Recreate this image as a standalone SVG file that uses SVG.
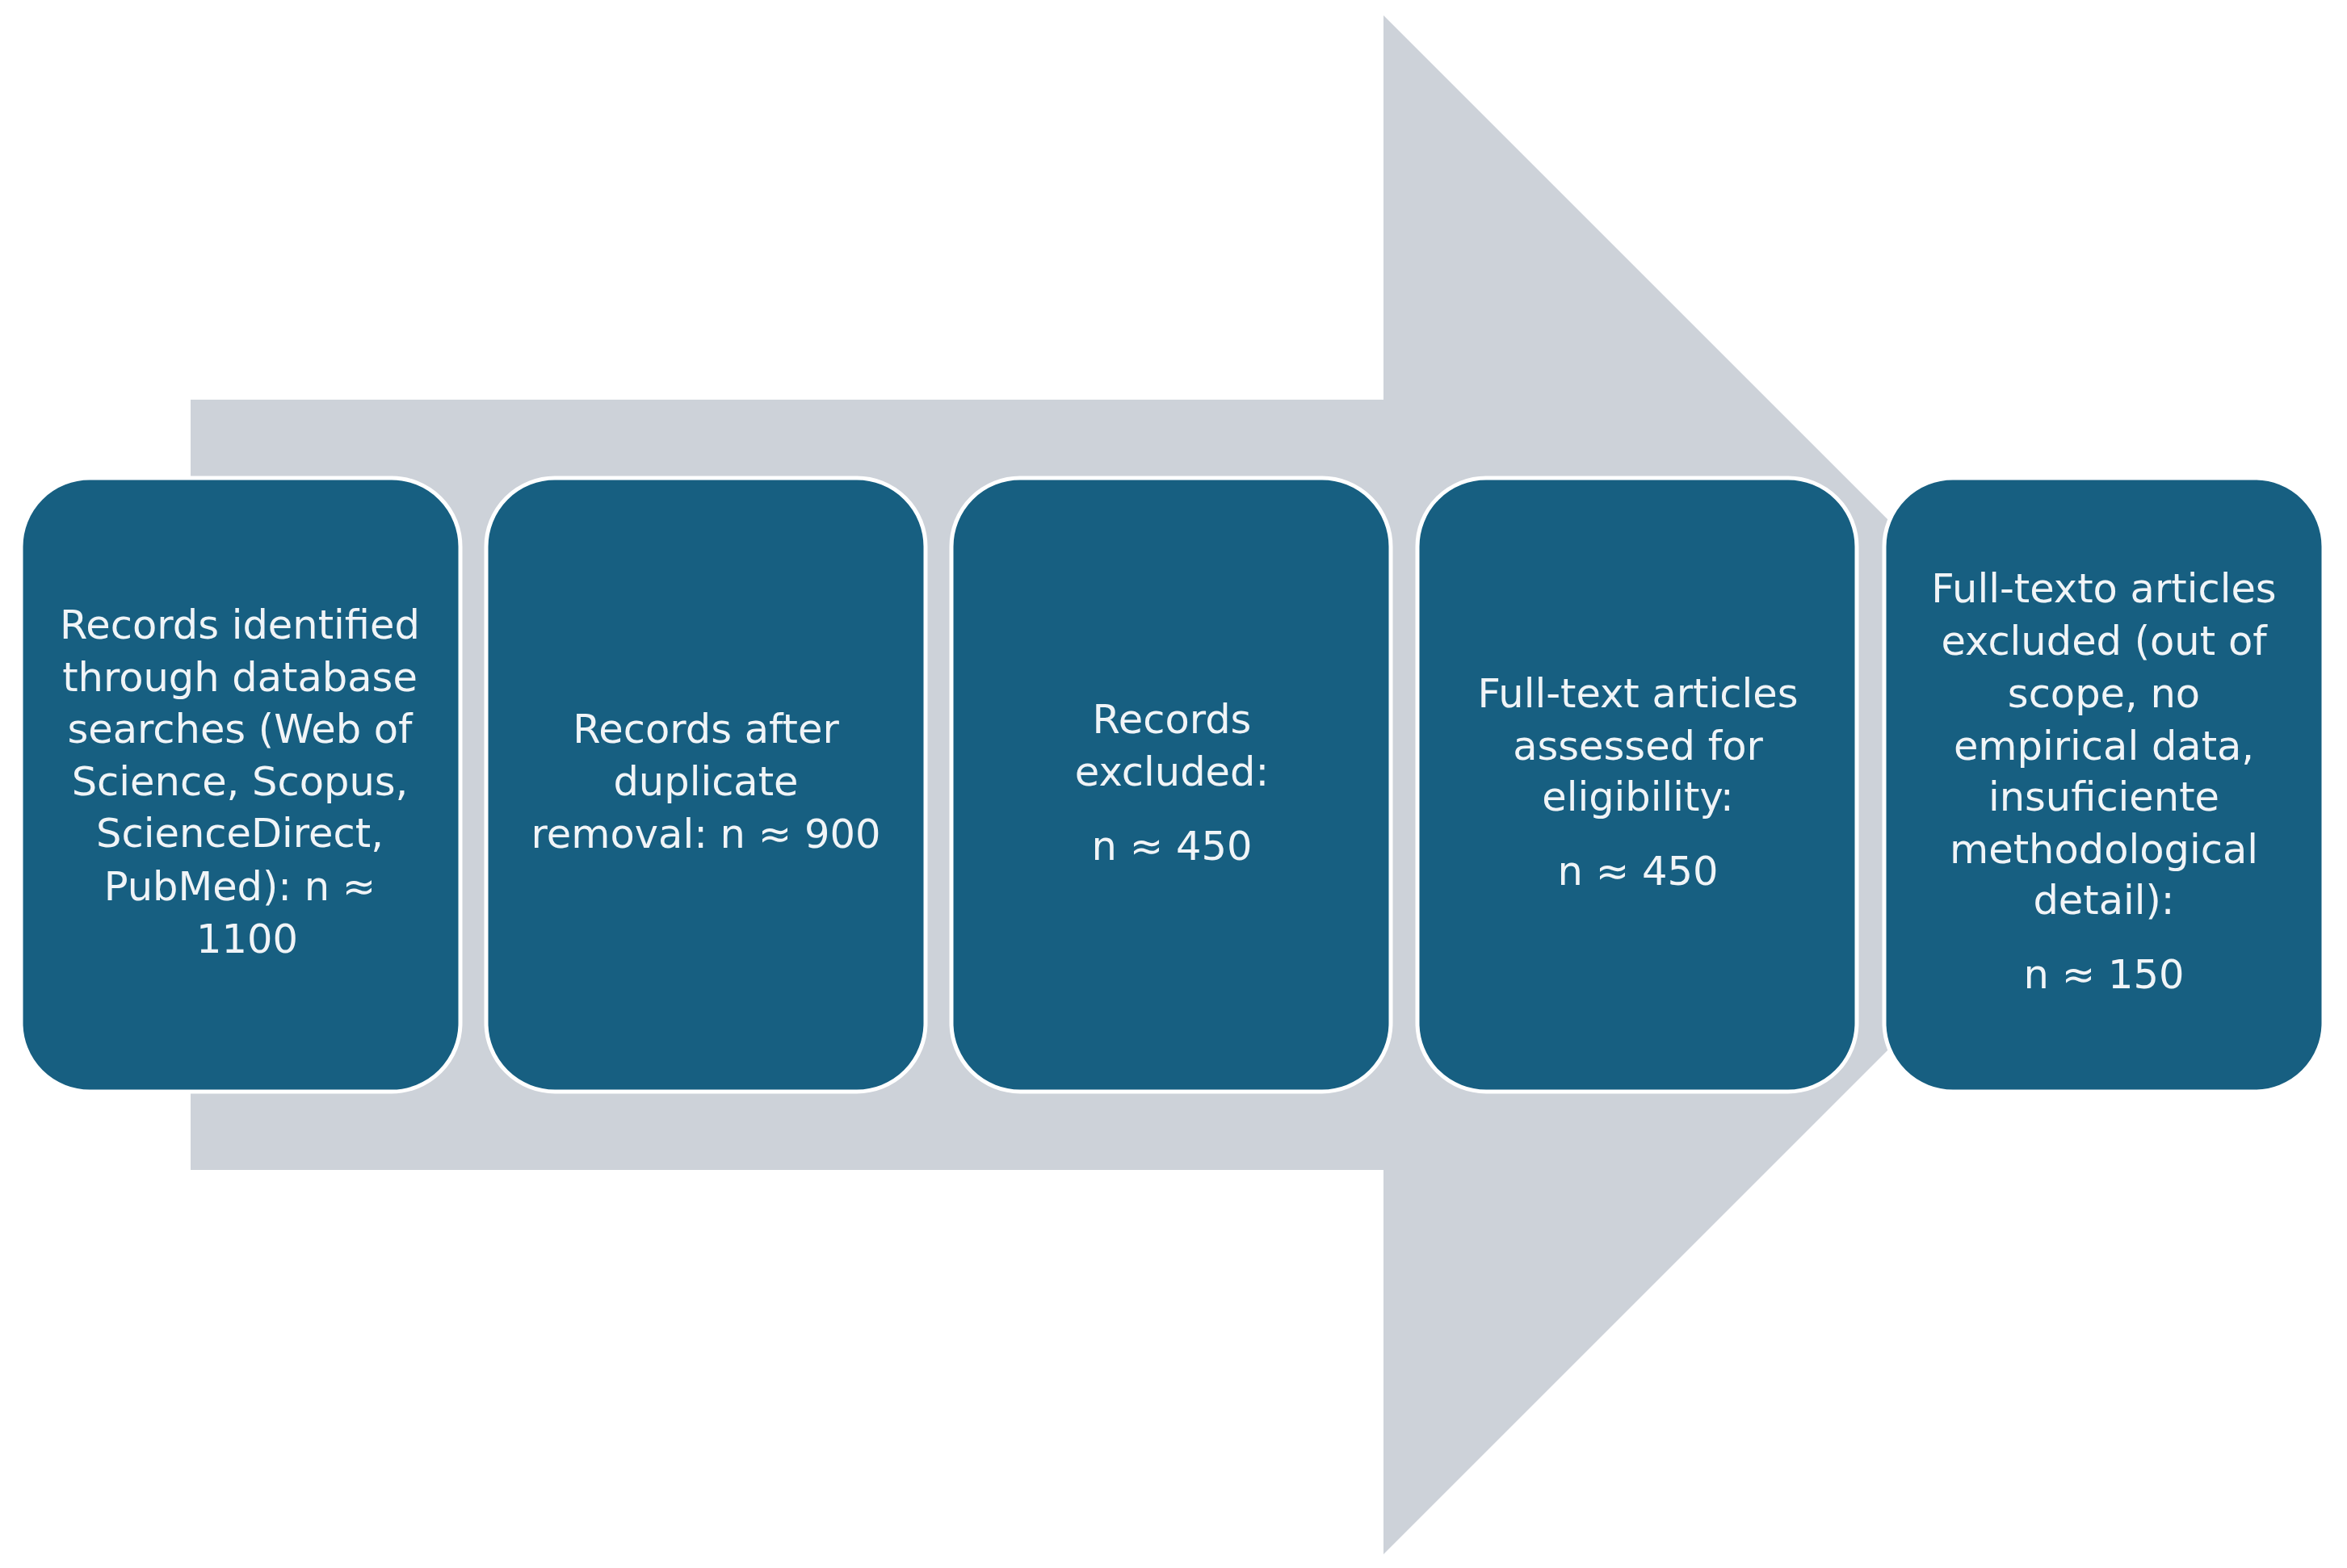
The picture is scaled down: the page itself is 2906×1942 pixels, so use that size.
<svg xmlns="http://www.w3.org/2000/svg" width="2906" height="1942" viewBox="0 0 2906 1942">
<style>
.bg{fill:#ffffff}
.arrow{fill:#CDD2D9}
.box{fill:#175F81;stroke:#ffffff;stroke-width:5}
.t{font-family:"DejaVu Sans","Noto Sans",sans-serif;font-size:49.5px;fill:#F0F4F7;text-anchor:middle}
</style>
<rect class="bg" x="0" y="0" width="2906" height="1942"/>
<g id="connectors">
<polygon class="arrow" points="236,495 1713,495 1713,19 2666,972 1713,1925 1713,1449 236,1449"/>
</g>
<g id="node1">
<rect class="box" x="26" y="592" width="544" height="760" rx="85" ry="85"/>
<text class="t" x="297" y="791">Records identified</text>
<text class="t" x="297" y="856">through database</text>
<text class="t" x="297" y="920">searches (Web of</text>
<text class="t" x="297" y="985">Science, Scopus,</text>
<text class="t" x="297" y="1049">ScienceDirect,</text>
<text class="t" x="297" y="1115">PubMed): n ≈</text>
<text class="t" x="306" y="1180">1100</text>
</g>
<g id="node2">
<rect class="box" x="602" y="592" width="544" height="760" rx="85" ry="85"/>
<text class="t" x="874" y="920">Records after</text>
<text class="t" x="874" y="985">duplicate</text>
<text class="t" x="874" y="1050">removal: n ≈ 900</text>
</g>
<g id="node3">
<rect class="box" x="1178" y="592" width="544" height="760" rx="85" ry="85"/>
<text class="t" x="1451" y="908">Records</text>
<text class="t" x="1451" y="973">excluded:</text>
<text class="t" x="1451" y="1065">n ≈ 450</text>
</g>
<g id="node4">
<rect class="box" x="1755" y="592" width="544" height="760" rx="85" ry="85"/>
<text class="t" x="2028" y="876">Full-text articles</text>
<text class="t" x="2028" y="941">assessed for</text>
<text class="t" x="2028" y="1004">eligibility:</text>
<text class="t" x="2028" y="1096">n ≈ 450</text>
</g>
<g id="node5">
<rect class="box" x="2333" y="592" width="544" height="760" rx="85" ry="85"/>
<text class="t" x="2605" y="746">Full-texto articles</text>
<text class="t" x="2605" y="811">excluded (out of</text>
<text class="t" x="2605" y="876">scope, no</text>
<text class="t" x="2605" y="941">empirical data,</text>
<text class="t" x="2605" y="1004">insuficiente</text>
<text class="t" x="2605" y="1069">methodological</text>
<text class="t" x="2605" y="1132">detail):</text>
<text class="t" x="2605" y="1224">n ≈ 150</text>
</g>
</svg>
